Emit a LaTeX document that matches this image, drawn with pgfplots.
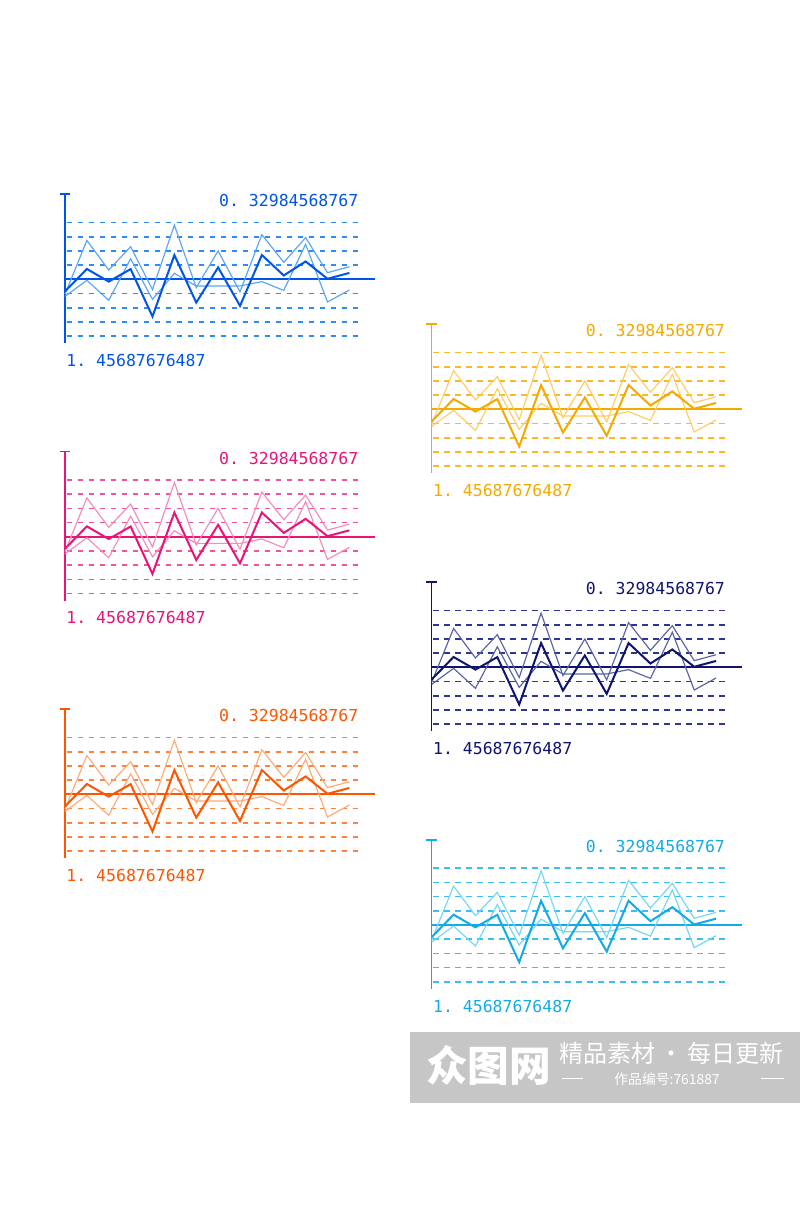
\documentclass[border=0pt]{standalone}
\usepackage{pgfplots}
\pgfplotsset{compat=1.18}
\usepackage{pgfplotstable}
\usepackage{fontspec}
\newfontfamily\lcd{DejaVu Sans Mono}
\newfontfamily\cjk{Noto Sans CJK SC}

\definecolor{bD}{RGB}{0,85,230}\definecolor{bL}{RGB}{90,165,245}\definecolor{bG}{RGB}{45,140,245}
\definecolor{pD}{RGB}{232,20,120}\definecolor{pL}{RGB}{245,140,190}\definecolor{pG}{RGB}{240,85,155}
\definecolor{oD}{RGB}{255,85,0}\definecolor{oL}{RGB}{255,170,120}\definecolor{oG}{RGB}{255,130,60}
\definecolor{yD}{RGB}{245,170,0}\definecolor{yL}{RGB}{255,205,100}\definecolor{yG}{RGB}{250,185,40}
\definecolor{nD}{RGB}{15,20,110}\definecolor{nL}{RGB}{90,100,165}\definecolor{nG}{RGB}{45,55,145}
\definecolor{cD}{RGB}{20,170,230}\definecolor{cL}{RGB}{115,215,245}\definecolor{cG}{RGB}{60,190,240}
\definecolor{wm}{RGB}{198,198,198}

\pgfplotstableread{
x dark upper lower
0 -0.85 -1.05 -1.20
1 0.73 2.74 -0.07
2 -0.16 0.66 -1.48
3 0.72 2.30 1.45
4 -2.62 -0.72 -1.41
5 1.71 3.82 0.42
6 -1.64 -0.58 -0.47
7 0.84 2.00 -0.47
8 -1.87 -0.88 -0.47
9 1.71 3.15 -0.16
10 0.27 1.20 -0.78
11 1.26 2.94 2.47
12 0.04 0.47 -1.60
13 0.45 0.89 -0.75
}\datatable

\pgfplotsset{mini/.style={
  scale only axis, width=176.4pt, height=89.4pt,
  xmin=0, xmax=13.44, ymin=-4.5, ymax=6,
  axis lines=none, clip=false, anchor=south west,
}}

\newcommand\minichart[5]{%
\begin{axis}[mini, at={(#1pt,#2pt)}]
  \pgfplotsinvokeforeach{-4,-3,-2,-1,1,2,3,4}{%
    \draw[#5, line width=0.95pt, dash pattern=on 3.5pt off 3.1pt] (axis cs:0.07,##1) -- (axis cs:13.44,##1);}
  \draw[#3, line width=0.95pt] (axis cs:0,-4.5) -- (axis cs:0,6);
  \draw[#3, line width=0.95pt] (axis cs:-0.25,6) -- (axis cs:0.25,6);
  \draw[#3, line width=1.2pt] (axis cs:0,0) -- (axis cs:14.17,0);
  \addplot[#4, line width=0.7pt] table[x=x, y=upper] {\datatable};
  \addplot[#4, line width=0.7pt] table[x=x, y=lower] {\datatable};
  \addplot[#3, line width=1.2pt] table[x=x, y=dark] {\datatable};
  \node[anchor=north east, inner sep=0pt, text=#3, font=\fontsize{9.9pt}{10pt}\lcd] at (axis cs:13.42,6) {0.~32984568767};
  \node[anchor=north west, inner sep=0pt, text=#3, font=\fontsize{9.9pt}{10pt}\lcd] at (axis cs:0.05,-5.26) {1.~45687676487};
\end{axis}}

\begin{document}
\begin{tikzpicture}
\path[use as bounding box, fill=white] (0pt,0pt) rectangle (480pt,723pt);
\minichart{39}{517.08}{bD}{bL}{bG}
\minichart{39}{362.64}{pD}{pL}{pG}
\minichart{39}{208.08}{oD}{oL}{oG}
\minichart{259.02}{439.08}{yD}{yL}{yG}
\minichart{259.02}{284.28}{nD}{nL}{nG}
\minichart{259.02}{129.66}{cD}{cL}{cG}
% watermark
\fill[wm] (246pt,61.2pt) rectangle (480pt,103.98pt);
\node[text=white, inner sep=0pt, font=\fontsize{25pt}{26pt}\cjk\bfseries] at (293.1pt,83.7pt) {众图网};
\node[text=white, inner sep=0pt, font=\fontsize{14.4pt}{15pt}\cjk] at (402.9pt,91.2pt) {精品素材\,·\,每日更新};
\node[text=white, inner sep=0pt, font=\fontsize{8.3pt}{9pt}\cjk] at (400.2pt,75.6pt) {作品编号:761887};
\draw[white, line width=0.4pt] (337.2pt,76.2pt) -- (349.8pt,76.2pt);
\draw[white, line width=0.4pt] (456.6pt,76.2pt) -- (470.4pt,76.2pt);
\end{tikzpicture}
\end{document}
